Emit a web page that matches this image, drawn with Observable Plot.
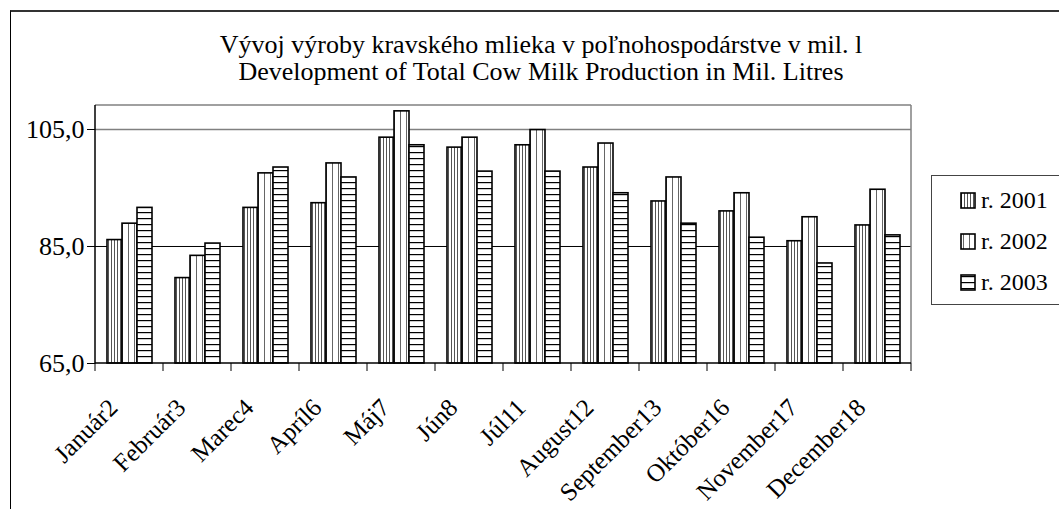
<!DOCTYPE html>
<html><head><meta charset="utf-8">
<script src="https://cdn.jsdelivr.net/npm/d3@7"></script>
<script src="https://cdn.jsdelivr.net/npm/@observablehq/plot@0.6"></script>
<style>
html,body{margin:0;padding:0;background:#fff;}
body{width:1059px;height:509px;overflow:hidden;position:relative;font-family:"Liberation Serif","Times New Roman",serif;color:#000;}
#frame{position:absolute;left:10px;top:10px;width:1100px;height:600px;border-left:1.5px solid #000;border-top:2px solid #333;}
#chart{position:absolute;left:0;top:0;}
#title{position:absolute;left:0;width:1082px;top:31px;text-align:center;font-size:26px;line-height:27px;white-space:nowrap;font-family:"Liberation Serif",serif;}
#legend{position:absolute;left:931px;top:175px;width:200px;height:128px;border:1.5px solid #444;background:#fff;}
.item{position:absolute;left:28px;height:30px;line-height:30px;font-size:24px;white-space:nowrap;font-family:"Liberation Serif",serif;}
.item svg{vertical-align:-2px;margin-right:4px;}
</style></head><body>
<div id="frame"></div>
<div id="chart"></div>
<div id="title">Vývoj výroby kravského mlieka v poľnohospodárstve v mil. l<br>Development of Total Cow Milk Production in Mil. Litres</div>
<div id="legend"></div>
<script>
const months = ["Január2","Február3","Marec4","Apríl6","Máj7","Jún8","Júl11","August12","September13","Október16","November17","December18"];
const years = ["r. 2001","r. 2002","r. 2003"];
const v2001 = [86.1, 79.6, 91.6, 92.4, 103.6, 101.9, 102.3, 98.5, 92.7, 91.0, 85.9, 88.6];
const v2002 = [88.9, 83.4, 97.5, 99.2, 108.1, 103.6, 104.9, 102.6, 96.8, 94.1, 90.0, 94.7];
const v2003 = [91.6, 85.5, 98.5, 96.8, 102.3, 97.8, 97.8, 94.1, 88.9, 86.5, 82.1, 86.9];
const yTicks = [65, 85, 105];
const patterns = ["url(#p1)","url(#p2)","url(#p3)"];

const series = [v2001, v2002, v2003];
const data = months.flatMap((m, i) => years.map((yr, j) => ({month: m, year: yr, value: series[j][i]})));
const fmt = d => d.toFixed(1).replace(".", ",");
const serif = "'Liberation Serif','Times New Roman',serif";

const plot = Plot.plot({
  width: 1059, height: 509,
  marginLeft: 90, marginRight: 144, marginTop: 105, marginBottom: 146,
  style: {fontFamily: serif, fontSize: "26px", background: "transparent", color: "#000"},
  fx: {domain: months, padding: 0, label: null},
  x: {domain: years, paddingInner: 0, paddingOuter: 0.69, axis: null},
  y: {domain: [65, 109.1], label: null},
  color: {domain: years, range: patterns},
  marks: [
    Plot.ruleY([85], {stroke: "#000", strokeWidth: 1}),
    Plot.ruleY([105], {stroke: "#808080", strokeWidth: 1.5}),
    Plot.barY(data, {fx: "month", x: "year", y1: 65, y2: "value", fill: "year", stroke: "#000", strokeWidth: 1.6}),
    Plot.axisY({ticks: yTicks, tickFormat: fmt, tickSize: 8, tickPadding: 3, fontSize: 26, fontFamily: serif, label: null, stroke: "#000"}),
    Plot.axisFx({anchor: "bottom", tickRotate: -45, tickSize: 0, tickPadding: 40, dx: -16, fontSize: 25, fontFamily: serif, label: null})
  ]
});
document.getElementById("chart").appendChild(plot);

const svg = d3.select(plot);
svg.selectAll("text").attr("font-family", serif).style("font-family", serif);
const defs = svg.insert("defs", ":first-child");
const p1 = defs.append("pattern").attr("id", "p1").attr("patternUnits", "userSpaceOnUse").attr("width", 3).attr("height", 10);
p1.append("rect").attr("width", 3).attr("height", 10).attr("fill", "#fff");
p1.append("rect").attr("x", 1).attr("width", 1).attr("height", 10).attr("fill", "#555");
const p2 = defs.append("pattern").attr("id", "p2").attr("patternUnits", "userSpaceOnUse").attr("width", 6).attr("height", 10);
p2.append("rect").attr("width", 6).attr("height", 10).attr("fill", "#fff");
p2.append("rect").attr("x", 3).attr("width", 1).attr("height", 10).attr("fill", "#666");
const p3 = defs.append("pattern").attr("id", "p3").attr("patternUnits", "userSpaceOnUse").attr("width", 10).attr("height", 6);
p3.append("rect").attr("width", 10).attr("height", 6).attr("fill", "#fff");
p3.append("rect").attr("y", 2).attr("width", 10).attr("height", 1.2).attr("fill", "#000");

// axis lines, plot-area border, category ticks from the library's scales
const fxScale = plot.scale("fx"), yScale = plot.scale("y");
const bandStart = fxScale.apply(months[0]), bandStep = fxScale.step;
const areaLeft = bandStart, areaRight = bandStart + bandStep * months.length;
const areaTop = yScale.apply(yScale.domain[1]), areaBottom = yScale.apply(yScale.domain[0]);
const g = svg.append("g");
g.append("line").attr("x1", areaLeft).attr("x2", areaRight).attr("y1", areaTop).attr("y2", areaTop).attr("stroke", "#808080").attr("stroke-width", 1.5);
g.append("line").attr("x1", areaRight).attr("x2", areaRight).attr("y1", areaTop).attr("y2", areaBottom).attr("stroke", "#808080").attr("stroke-width", 1.5);
g.append("line").attr("x1", areaLeft).attr("x2", areaLeft).attr("y1", areaTop).attr("y2", areaBottom + 0.5).attr("stroke", "#000").attr("stroke-width", 1.5);
g.append("line").attr("x1", areaLeft).attr("x2", areaRight).attr("y1", areaBottom).attr("y2", areaBottom).attr("stroke", "#000").attr("stroke-width", 1.5);
d3.range(months.length + 1).forEach(i => {
  const xx = bandStart + i * bandStep;
  g.append("line").attr("x1", xx).attr("x2", xx).attr("y1", areaBottom).attr("y2", areaBottom + 8).attr("stroke", "#000").attr("stroke-width", 1);
});

// legend
const legend = d3.select("#legend");
years.forEach((yr, i) => {
  const it = legend.append("div").attr("class", "item").style("top", (9 + i * 41) + "px");
  const s = it.append("svg").attr("width", 17).attr("height", 18);
  s.append("rect").attr("x", 1).attr("y", 1).attr("width", 14).attr("height", 15).attr("fill", patterns[i]).attr("stroke", "#000").attr("stroke-width", 1.6);
  it.append("span").text(yr);
});
</script>
</body></html>
